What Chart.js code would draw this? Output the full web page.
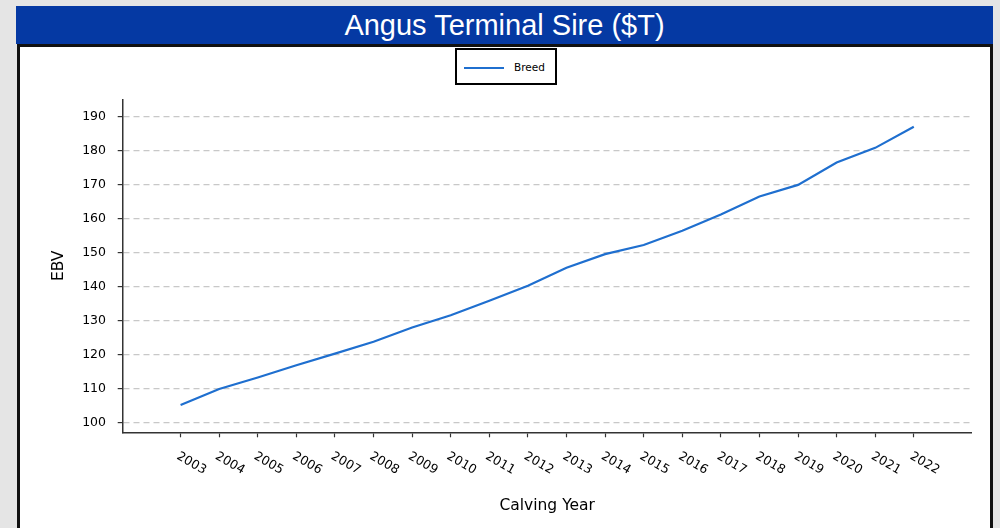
<!DOCTYPE html>
<html>
<head>
<meta charset="utf-8">
<script src="https://cdn.jsdelivr.net/npm/chart.js@4/dist/chart.umd.min.js"></script>
<style>
  html, body { margin:0; padding:0; }
  body { width:1000px; height:528px; overflow:hidden; background:#e5e5e5; position:relative; font-family:"DejaVu Sans", sans-serif; }
  #title { position:absolute; left:16px; top:6px; width:977px; height:38px; background:#0539a3; color:#fff;
           font-family:"Liberation Sans", Arial, sans-serif; font-size:29px; line-height:38px; text-align:center; }
  #panel { position:absolute; left:17px; top:44px; width:976px; height:520px; box-sizing:border-box;
           border:3px solid #111; background:#fff; }
  #wrap { position:absolute; left:20px; top:47px; width:970px; height:481px; }
  #legend { position:absolute; left:455px; top:48px; width:102px; height:37px; box-sizing:border-box;
            border:2px solid #000; background:#fff; }
  #legend .swatch { position:absolute; left:7px; top:16.5px; width:40px; height:2.4px; }
  #legend .lbl { position:absolute; left:57px; top:0; line-height:34px; font-size:10.5px; color:#000;
                 font-family:"DejaVu Sans", sans-serif; }
</style>
</head>
<body>
<div id="title"></div>
<div id="panel"></div>
<div id="wrap"><canvas id="c"></canvas></div>
<div id="legend"><div class="swatch"></div><div class="lbl"></div></div>
<script>
const chartTitle = "Angus Terminal Sire ($T)";
const seriesName = "Breed";
const xAxisTitle = "Calving Year";
const yAxisTitle = "EBV";
const years = [2003,2004,2005,2006,2007,2008,2009,2010,2011,2012,2013,2014,2015,2016,2017,2018,2019,2020,2021,2022];
const breed = [105.1,109.8,113.2,116.8,120.2,123.7,127.9,131.5,135.8,140.2,145.5,149.5,152.2,156.4,161.2,166.5,169.9,176.5,180.8,187.0];
const yTicks = [100,110,120,130,140,150,160,170,180,190];
const xTickLabels = years.map(String);
const lineColor = '#1f6fcf';

document.getElementById('title').textContent = chartTitle;
document.querySelector('#legend .lbl').textContent = seriesName;
document.querySelector('#legend .swatch').style.background = lineColor;

const rotatedXLabels = {
  id: 'rotatedXLabels',
  afterDraw(chart) {
    const xs = chart.scales.x;
    const ctx = chart.ctx;
    ctx.save();
    ctx.font = '12.5px "DejaVu Sans"';
    ctx.fillStyle = '#000';
    ctx.textAlign = 'center';
    ctx.textBaseline = 'middle';
    years.forEach((v, i) => {
      const px = xs.getPixelForValue(v);
      ctx.save();
      ctx.translate(px + 10.8, xs.top + 31.1);
      ctx.rotate(Math.PI / 6);
      ctx.fillText(xTickLabels[i], 0, 0);
      ctx.restore();
    });
    ctx.restore();
  }
};

new Chart(document.getElementById('c'), {
  type: 'line',
  data: {
    datasets: [{
      label: seriesName,
      data: years.map((y, i) => ({x: y, y: breed[i]})),
      borderColor: lineColor,
      backgroundColor: lineColor,
      borderWidth: 2.2,
      pointRadius: 0,
      tension: 0,
      fill: false
    }]
  },
  options: {
    responsive: true,
    maintainAspectRatio: false,
    animation: false,
    devicePixelRatio: 1,
    layout: { padding: { left: 0, right: 18.3, top: 52.3, bottom: 0 } },
    plugins: { legend: { display: false }, tooltip: { enabled: false } },
    scales: {
      x: {
        type: 'linear',
        min: 2001.5,
        max: 2023.5,
        afterBuildTicks: s => { s.ticks = years.map(v => ({value: v})); },
        afterFit: s => { s.height = 95.7; },
        ticks: { display: false },
        grid: { drawOnChartArea: false, drawTicks: true, tickLength: 5, tickColor: '#333', tickWidth: 1.2 },
        border: { display: true, color: '#333', width: 1.5 },
        title: { display: true, text: xAxisTitle, color: '#000',
                 font: { family: 'DejaVu Sans', size: 15.5 }, padding: { top: 0, bottom: 13 } }
      },
      y: {
        type: 'linear',
        min: 97.05,
        max: 195.1,
        afterBuildTicks: s => { s.ticks = yTicks.map(v => ({value: v})); },
        afterFit: s => { s.width = 102.7; },
        ticks: { color: '#000', font: { family: 'DejaVu Sans', size: 12.5 }, padding: 11.7 },
        grid: { color: '#c8c8c8', lineWidth: 1.2, drawTicks: true, tickLength: 5, tickColor: '#333',
                tickWidth: 1.2, tickBorderDash: [] },
        border: { display: true, color: '#333', width: 1.5, dash: [6, 4] },
        title: { display: true, text: yAxisTitle, color: '#000',
                 font: { family: 'DejaVu Sans', size: 15.5 }, padding: { top: 29.5, bottom: 0 } }
      }
    }
  },
  plugins: [rotatedXLabels]
});
</script>
</body>
</html>
